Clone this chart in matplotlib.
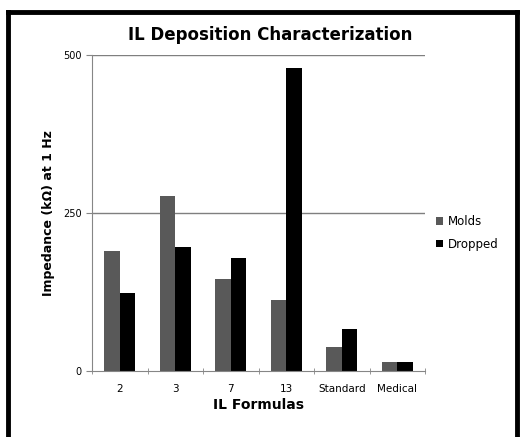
"""IL deposition characterization: impedance at 1 Hz per IL formula."""

import numpy as np
import matplotlib
matplotlib.use("Agg")
import matplotlib.pyplot as plt
from matplotlib.lines import Line2D

formulas = ["2", "3", "7", "13", "Standard", "Medical"]
molds = [190, 277, 146, 112, 38, 14]
dropped = [123, 196, 179, 479, 66, 14]

fig = plt.figure(figsize=(5.23, 4.37), dpi=100)
ax = fig.add_axes([0.176, 0.151, 0.637, 0.723])

x = np.arange(len(formulas))
w = 0.28
ax.bar(x - w / 2, molds, w, color="#595959", label="Molds")
ax.bar(x + w / 2, dropped, w, color="black", label="Dropped")

ax.set_xlim(-0.5, len(formulas) - 0.5)
ax.set_ylim(0, 500)
ax.set_yticks([0, 250, 500])
ax.set_yticklabels(["0", "250", "500"], fontsize=7)
ax.set_xticks(x)
ax.set_xticklabels(formulas, fontsize=7.5)
ax.tick_params(axis="x", length=0, pad=9)
ax.set_xticks(np.arange(-0.5, len(formulas)), minor=True)
ax.tick_params(axis="x", which="minor", length=4, direction="inout", color="#868686")
ax.tick_params(axis="y", length=4, direction="out", color="#868686")
for yv in (250, 500):
    ax.axhline(yv, color="#7f7f7f", lw=1, zorder=0)

for s in ("top", "right"):
    ax.spines[s].set_visible(False)
for s in ("left", "bottom"):
    ax.spines[s].set_color("#868686")

ax.set_xlabel("IL Formulas", fontsize=10, fontweight="bold", labelpad=3)
ax.set_ylabel("Impedance (kΩ) at 1 Hz", fontsize=9, fontweight="bold", labelpad=6)
fig.text(0.517, 0.92, "IL Deposition Characterization", ha="center", va="center",
         fontsize=12, fontweight="bold")

ax.legend(loc="center left", bbox_to_anchor=(1.0, 0.437), frameon=False, fontsize=8.5,
          handlelength=0.6, handleheight=0.6, handletextpad=0.4, labelspacing=0.8)

# frame around the picture (no bottom edge)
for xs, ys in (([0.015, 0.015], [0.0, 0.972]), ([0.015, 0.989], [0.972, 0.972]),
               ([0.989, 0.989], [0.0, 0.972])):
    fig.add_artist(Line2D(xs, ys, color="black", lw=3.5, transform=fig.transFigure))

fig.savefig("out.png", dpi=100)
